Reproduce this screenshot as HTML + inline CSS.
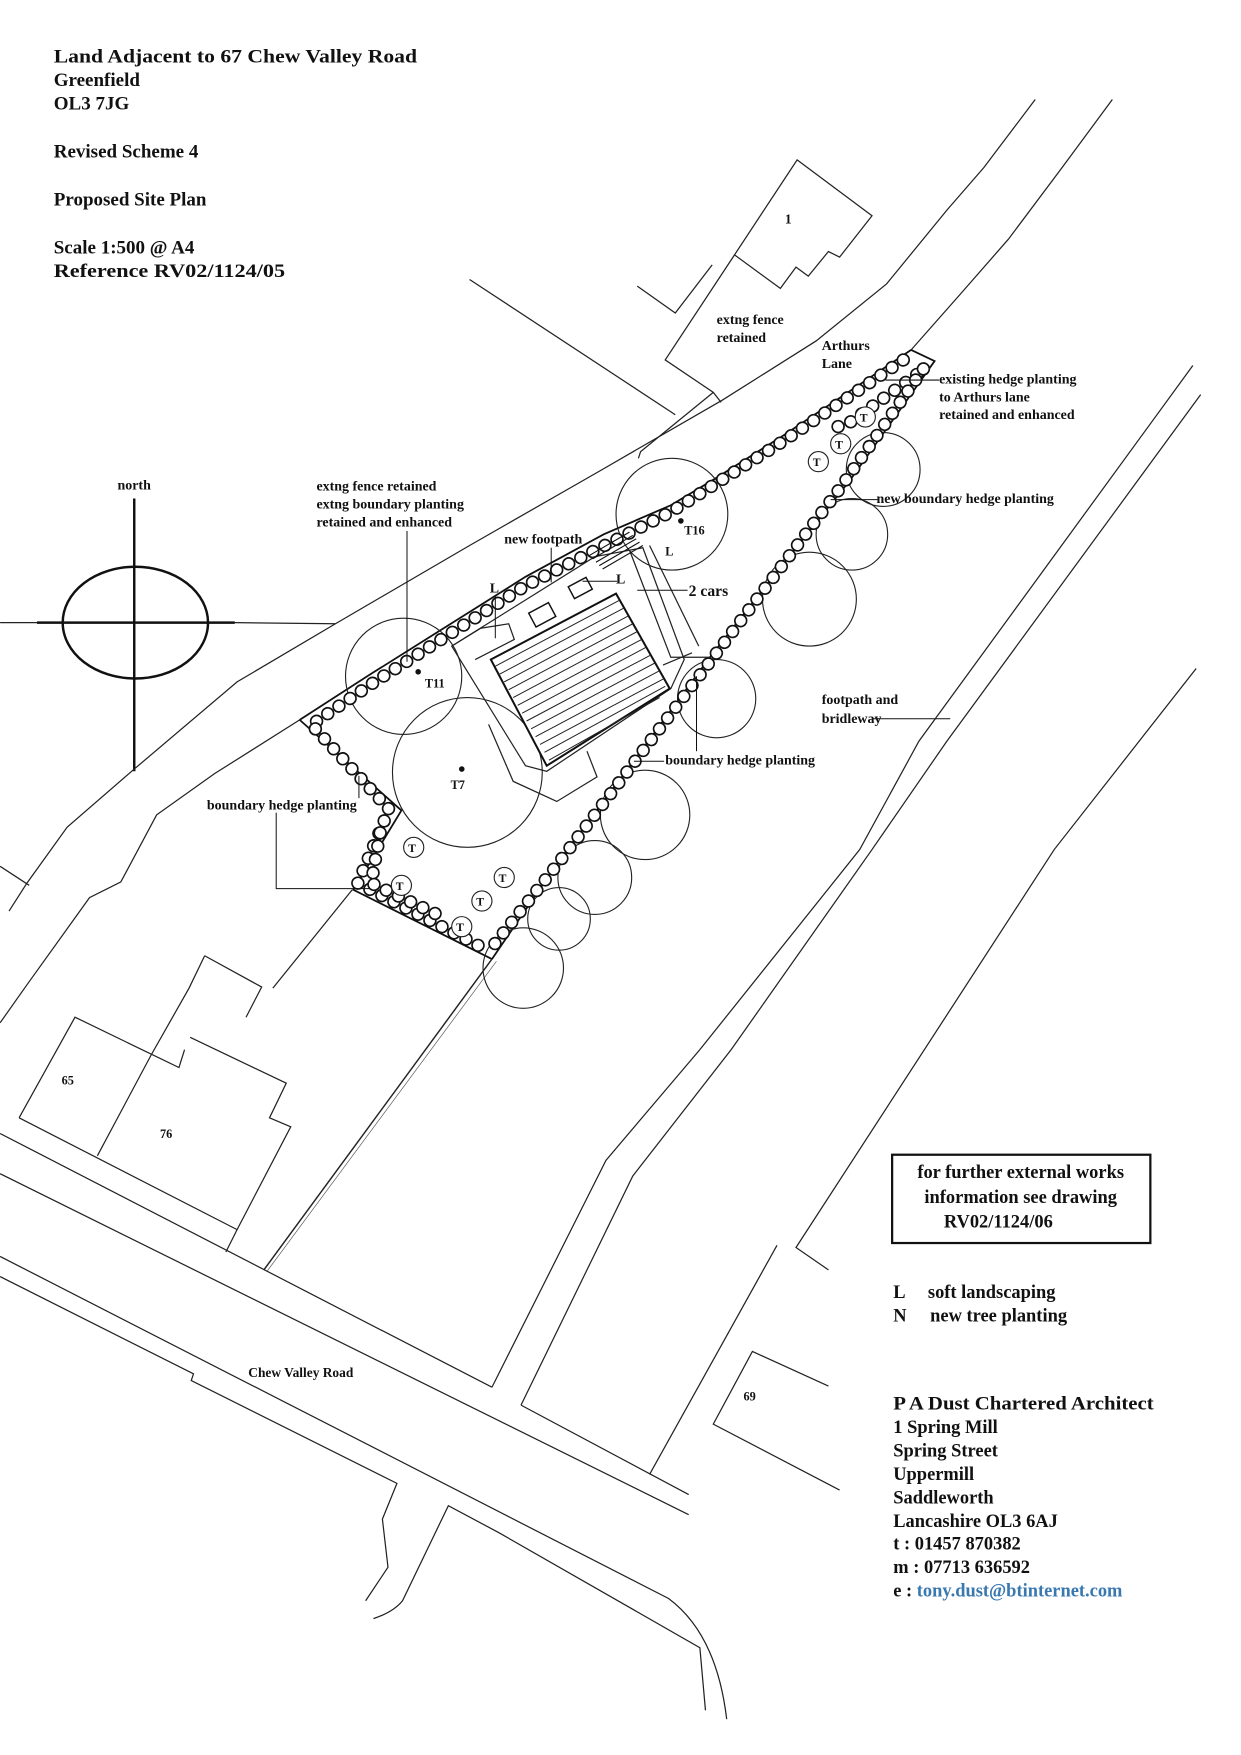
<!DOCTYPE html>
<html><head><meta charset="utf-8"><style>
html,body{margin:0;padding:0;background:#fff}
svg{display:block}
text{font-family:"Liberation Serif",serif;font-weight:bold;fill:#111}
.l{fill:none;stroke:#222;stroke-width:1.1}
.t{fill:none;stroke:#222;stroke-width:1}
.hb{fill:none;stroke:#111;stroke-width:12;stroke-dasharray:0.1 12;stroke-linecap:round}
.hw{fill:none;stroke:#fff;stroke-width:9;stroke-dasharray:0.1 12;stroke-linecap:round}
</style></head><body>
<svg width="1241" height="1755" viewBox="0 0 1110 1570" xmlns="http://www.w3.org/2000/svg">
<rect width="1110" height="1570" fill="#fff"/>

<g font-size="17">
<text x="48" y="56" textLength="325" lengthAdjust="spacingAndGlyphs">Land Adjacent to 67 Chew Valley Road</text>
<text x="48" y="77">Greenfield</text>
<text x="48" y="98">OL3 7JG</text>
<text x="48" y="141">Revised Scheme 4</text>
<text x="48" y="184">Proposed Site Plan</text>
<text x="48" y="227">Scale 1:500 @ A4</text>
<text x="48" y="248" textLength="207" lengthAdjust="spacingAndGlyphs">Reference RV02/1124/05</text>
</g>

<text x="105" y="438" font-size="12.5">north</text>
<line x1="120" y1="446" x2="120" y2="690" stroke="#111" stroke-width="2.2"/>
<line x1="33" y1="557" x2="210" y2="557" stroke="#111" stroke-width="2.2"/>
<line x1="210" y1="557" x2="300" y2="558" class="l"/>
<line x1="0" y1="557" x2="33" y2="557" class="l"/>
<ellipse cx="121" cy="557" rx="65" ry="50" fill="none" stroke="#111" stroke-width="2.2"/>

<polyline class="l" points="926,89 880,150 847,188 793,254 730,305 646,358 537,421 420,488 300,558 212,610 120,688 60,740 24,790 8,815"/>
<polyline class="l" points="0,775 26,792"/>
<polyline class="l" points="995,89 950,150 902,214 860,262 815,313"/>
<polyline class="l" points="268,644 192,692 140,729 108,789 80,803 24,881 0,915"/>

<polygon class="l" points="713,143 780,193 751,230 741,225 723,247 712,239 698,258 657,228"/>
<polyline class="l" points="570,256 604,280 637,237"/>
<polyline class="l" points="657,228 595,322 638,351 645,360"/>
<polyline class="l" points="638,351 573,404 571,410"/>
<line class="l" x1="420" y1="250" x2="604" y2="371"/>
<text x="702" y="200" font-size="12">1</text>
<text x="641" y="290" font-size="12.5">extng fence</text>
<text x="641" y="306" font-size="12.5">retained</text>
<text x="735" y="313" font-size="12.5">Arthurs</text>
<text x="735" y="329" font-size="12.5">Lane</text>

<polyline class="l" points="1067,327 822,663 769,760 626,939 542,1038 440,1241"/>
<polyline class="l" points="1074,353 847,663 780,760 654,939 566,1052 466,1257"/>
<polyline class="l" points="1070,598 943,760 712,1116 741,1136"/>
<polyline class="l" points="695,1114 581,1319"/>
<polyline class="l" points="741,1240 673,1209 638,1274 751,1333"/>
<text x="665" y="1253" font-size="11">69</text>

<line class="l" x1="0" y1="1014" x2="440" y2="1241"/>
<line class="l" x1="466" y1="1257" x2="616" y2="1337"/>
<line class="l" x1="0" y1="1050" x2="616" y2="1355"/>
<path class="l" d="M0,1124 L598,1430 Q641,1462 650,1538"/>
<polyline class="l" points="0,1142 173,1229 171,1235 355,1327 342,1359 347,1402 327,1432"/>
<path class="l" d="M334,1448 Q352,1442 360,1432 L401,1347 L446,1371 L626,1474 L631,1530"/>
<text x="222" y="1232" font-size="12">Chew Valley Road</text>

<polyline class="l" points="17,1000 67,910 160,955 165,939"/>
<polyline class="l" points="183,855 234,883 220,910"/>
<polyline class="l" points="183,855 169,884 135,944 87,1034"/>
<polyline class="l" points="170,928 256,969 241,1000 260,1008 212,1100 202,1120"/>
<polyline class="l" points="17,1000 212,1100"/>
<polyline class="l" points="315,796 244,884"/>
<text x="55" y="970" font-size="11">65</text>
<text x="143" y="1018" font-size="11">76</text>

<polyline points="815,313 760,350 700,390 640,428 600,452 540,478 470,516 400,560 330,604 268,644" fill="none" stroke="#111" stroke-width="1.6"/>
<polyline points="815,313 836,323 760,430 700,505 635,588 560,690 500,770 440,858" fill="none" stroke="#111" stroke-width="1.6"/>
<polyline points="268,644 359,725 316,796 440,858" fill="none" stroke="#111" stroke-width="1.6"/>
<line x1="440" y1="858" x2="236" y2="1136" stroke="#222" stroke-width="1.3"/>
<line x1="444" y1="860" x2="239" y2="1137" stroke="#555" stroke-width="0.6"/>

<g class="t">
<circle cx="361" cy="605" r="52"/>
<circle cx="418" cy="691" r="67"/>
<circle cx="601" cy="460" r="50"/>
<circle cx="790" cy="420" r="33"/>
<circle cx="762" cy="478" r="32"/>
<circle cx="724" cy="536" r="42"/>
<circle cx="641" cy="625" r="35"/>
<circle cx="577" cy="729" r="40"/>
<circle cx="532" cy="785" r="33"/>
<circle cx="500" cy="822" r="28"/>
<circle cx="468" cy="866" r="36"/>
</g>

<g>
<path class="hb" d="M808,322 L700,395 L600,458 L470,524 L335,610 L282,646"/>
<path class="hw" d="M808,322 L700,395 L600,458 L470,524 L335,610 L282,646"/>
<path class="hb" d="M820,335 L760,378 L740,385"/>
<path class="hw" d="M820,335 L760,378 L740,385"/>
<path class="hb" d="M826,330 L752,436 L632,596 L498,774 L438,850"/>
<path class="hw" d="M826,330 L752,436 L632,596 L498,774 L438,850"/>
<path class="hb" d="M282,652 L348,724 L320,790 L432,848"/>
<path class="hw" d="M282,652 L348,724 L320,790 L432,848"/>
<path class="hb" d="M340,745 L332,790 L395,820"/>
<path class="hw" d="M340,745 L332,790 L395,820"/>
</g>

<polygon class="l" points="404,578 532,498 575,490 612,590 600,616 489,690 470,685" stroke-width="1.4"/>
<polygon points="439,590 551,531 599,616 489,685" fill="#fff" stroke="#111" stroke-width="1.8"/>
<g stroke="#222" stroke-width="0.9">
<line x1="443" y1="596" x2="554" y2="537"/><line x1="447" y1="603" x2="558" y2="544"/>
<line x1="451" y1="610" x2="562" y2="551"/><line x1="455" y1="617" x2="566" y2="558"/>
<line x1="459" y1="624" x2="570" y2="565"/><line x1="463" y1="631" x2="574" y2="572"/>
<line x1="467" y1="638" x2="578" y2="579"/><line x1="471" y1="645" x2="582" y2="586"/>
<line x1="475" y1="652" x2="586" y2="593"/><line x1="479" y1="659" x2="590" y2="600"/>
<line x1="483" y1="666" x2="594" y2="607"/><line x1="487" y1="673" x2="595" y2="614"/>
<line x1="491" y1="680" x2="590" y2="624"/>
</g>
<polyline class="l" points="437,648 459,699 498,717 534,695 525,672"/>
<polyline class="l" points="563,492 600,588 635,588"/>
<polyline class="l" points="581,488 625,578"/>
<line class="l" x1="593" y1="595" x2="619" y2="584"/>
<polyline class="l" points="404,578 430,562 455,558 460,572 425,590"/>
<rect x="475" y="543" width="20" height="14" fill="none" stroke="#111" stroke-width="1.3" transform="rotate(-28 485 550)"/>
<rect x="510" y="520" width="18" height="12" fill="none" stroke="#111" stroke-width="1.3" transform="rotate(-28 519 526)"/>
<g stroke="#111" stroke-width="1">
<line x1="527" y1="497" x2="563" y2="476"/><line x1="530" y1="500" x2="566" y2="479"/>
<line x1="533" y1="503" x2="569" y2="482"/><line x1="536" y1="506" x2="572" y2="485"/>
<line x1="539" y1="509" x2="575" y2="488"/>
</g>

<g font-size="11">
<circle cx="374" cy="601" r="2.5" fill="#111"/><text x="380" y="615">T11</text>
<circle cx="413" cy="688" r="2.5" fill="#111"/><text x="403" y="706">T7</text>
<circle cx="609" cy="466" r="2.5" fill="#111"/><text x="612" y="478">T16</text>
</g>
<g font-size="10.5">
<circle cx="774" cy="373" r="9" fill="#fff" stroke="#222"/><text x="769" y="377">T</text>
<circle cx="752" cy="397" r="9" fill="#fff" stroke="#222"/><text x="747" y="401">T</text>
<circle cx="732" cy="413" r="9" fill="#fff" stroke="#222"/><text x="727" y="417">T</text>
<circle cx="370" cy="758" r="9" fill="#fff" stroke="#222"/><text x="365" y="762">T</text>
<circle cx="359" cy="792" r="9" fill="#fff" stroke="#222"/><text x="354" y="796">T</text>
<circle cx="451" cy="785" r="9" fill="#fff" stroke="#222"/><text x="446" y="789">T</text>
<circle cx="431" cy="806" r="9" fill="#fff" stroke="#222"/><text x="426" y="810">T</text>
<circle cx="413" cy="829" r="9" fill="#fff" stroke="#222"/><text x="408" y="833">T</text>
</g>

<g font-size="12.5">
<text x="840" y="343">existing hedge planting</text>
<text x="840" y="359">to Arthurs lane</text>
<text x="840" y="375">retained and enhanced</text>
<text x="784" y="450">new boundary hedge planting</text>
<text x="283" y="439">extng fence retained</text>
<text x="283" y="455">extng boundary planting</text>
<text x="283" y="471">retained and enhanced</text>
<text x="451" y="486">new footpath</text>
<text x="438" y="530">L</text>
<text x="551" y="522">L</text>
<text x="595" y="497" font-size="11">L</text>
<text x="616" y="533" font-size="14">2 cars</text>
<text x="735" y="630">footpath and</text>
<text x="735" y="647">bridleway</text>
<text x="595" y="684">boundary hedge planting</text>
<text x="185" y="724">boundary hedge planting</text>
</g>
<g stroke="#111" stroke-width="0.9" fill="none">
<line x1="792" y1="340" x2="840" y2="340"/>
<line x1="743" y1="447" x2="786" y2="447"/>
<line x1="364" y1="475" x2="364" y2="592"/>
<line x1="493" y1="490" x2="493" y2="521"/>
<line x1="443" y1="533" x2="443" y2="571"/>
<line x1="521" y1="520" x2="552" y2="520"/>
<line x1="570" y1="528" x2="615" y2="528"/>
<line x1="780" y1="643" x2="850" y2="643"/>
<line x1="567" y1="681" x2="594" y2="681"/>
<line x1="623" y1="605" x2="623" y2="672"/>
<line x1="321" y1="694" x2="321" y2="714"/>
<polyline points="247,727 247,795 331,795"/>
</g>

<rect x="798" y="1033" width="231" height="79" fill="none" stroke="#111" stroke-width="2"/>
<g font-size="16.5" text-anchor="middle">
<text x="913" y="1054">for further external works</text>
<text x="913" y="1076">information see drawing</text>
<text x="893" y="1098">RV02/1124/06</text>
</g>
<g font-size="16.5">
<text x="799" y="1161">L</text><text x="830" y="1161">soft landscaping</text>
<text x="799" y="1182">N</text><text x="832" y="1182">new tree planting</text>
<text x="799" y="1261" textLength="233" lengthAdjust="spacingAndGlyphs">P A Dust Chartered Architect</text>
<text x="799" y="1282">1 Spring Mill</text>
<text x="799" y="1303">Spring Street</text>
<text x="799" y="1324">Uppermill</text>
<text x="799" y="1345">Saddleworth</text>
<text x="799" y="1366">Lancashire OL3 6AJ</text>
<text x="799" y="1386">t   : 01457 870382</text>
<text x="799" y="1407">m : 07713 636592</text>
<text x="799" y="1428">e  : <tspan fill="#3a78b0">tony.dust@btinternet.com</tspan></text>
</g>
</svg>
</body></html>
